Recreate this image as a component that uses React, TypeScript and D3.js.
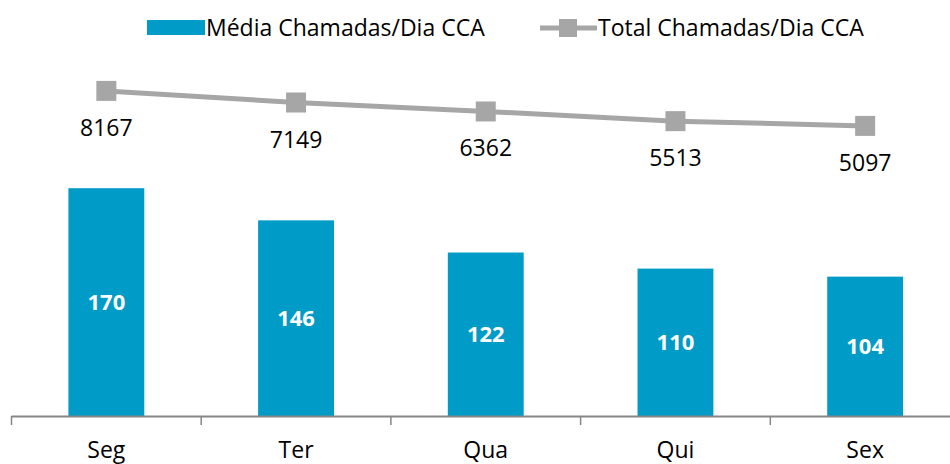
import React from "react";
import * as d3 from "d3";

const categories = ["Seg", "Ter", "Qua", "Qui", "Sex"];
const mediaValues = [170, 146, 122, 110, 104];
const totalValues = [8167, 7149, 6362, 5513, 5097];
const seriesNames = ["Média Chamadas/Dia CCA", "Total Chamadas/Dia CCA"];

const W = 950;
const H = 464;
const FONT = "'Open Sans', 'Noto Sans', sans-serif";

export default function App() {
  const x = d3.scaleBand<string>().domain(categories).range([11.5, 960]).paddingInner(0).paddingOuter(0);
  const bw = x.bandwidth();
  const barW = bw * 0.4;
  const yBar = d3.scaleLinear().domain([0, 250]).range([416, 81]);
  const yLine = d3.scaleLinear().domain([-20000, 10000]).range([412, 70]);
  const line = d3
    .line<number>()
    .x((_, i) => x(categories[i])! + bw / 2)
    .y((d) => yLine(d));
  const ticks = d3.range(categories.length + 1).map((i) => 11.5 + i * bw);

  return (
    <svg
      width={W}
      height={H}
      style={{ position: "absolute", left: 0, top: 0, background: "#fff" }}
      fontFamily={FONT}
    >
      {/* legend */}
      <rect x={147} y={20} width={58} height={15} fill="#009bc6" />
      <text x={206} y={36} fontSize={23} fill="#000">
        {seriesNames[0]}
      </text>
      <line x1={540} x2={597} y1={28} y2={28} stroke="#a6a6a6" strokeWidth={5} />
      <rect x={559} y={19} width={18} height={18} fill="#a6a6a6" />
      <text x={598} y={36} fontSize={23} fill="#000">
        {seriesNames[1]}
      </text>

      {/* bars */}
      {mediaValues.map((v, i) => {
        const cx = x(categories[i])! + bw / 2;
        return (
          <g key={categories[i]}>
            <rect x={cx - barW / 2} y={yBar(v)} width={barW} height={yBar(0) - yBar(v)} fill="#009bc6" />
            <text
              x={cx}
              y={(yBar(v) + yBar(0)) / 2 + 8}
              textAnchor="middle"
              fill="#fff"
              fontWeight="bold"
              fontSize={22}
            >
              {v}
            </text>
          </g>
        );
      })}

      {/* axis */}
      <line x1={11.5} x2={W} y1={416.5} y2={416.5} stroke="#868686" strokeWidth={2} />
      {ticks.map((t, i) => (
        <line key={i} x1={t} x2={t} y1={416} y2={425} stroke="#868686" strokeWidth={1.5} />
      ))}
      {categories.map((c) => (
        <text key={c} x={x(c)! + bw / 2} y={458} textAnchor="middle" fontSize={23} fill="#000">
          {c}
        </text>
      ))}

      {/* line series */}
      <path d={line(totalValues) || ""} fill="none" stroke="#a6a6a6" strokeWidth={5} />
      {totalValues.map((v, i) => {
        const cx = x(categories[i])! + bw / 2;
        const cy = yLine(v);
        return (
          <g key={i}>
            <rect x={cx - 10} y={cy - 10} width={20} height={20} fill="#a6a6a6" />
            <text x={cx} y={cy + 45} textAnchor="middle" fontSize={23} fill="#000">
              {v}
            </text>
          </g>
        );
      })}
    </svg>
  );
}
